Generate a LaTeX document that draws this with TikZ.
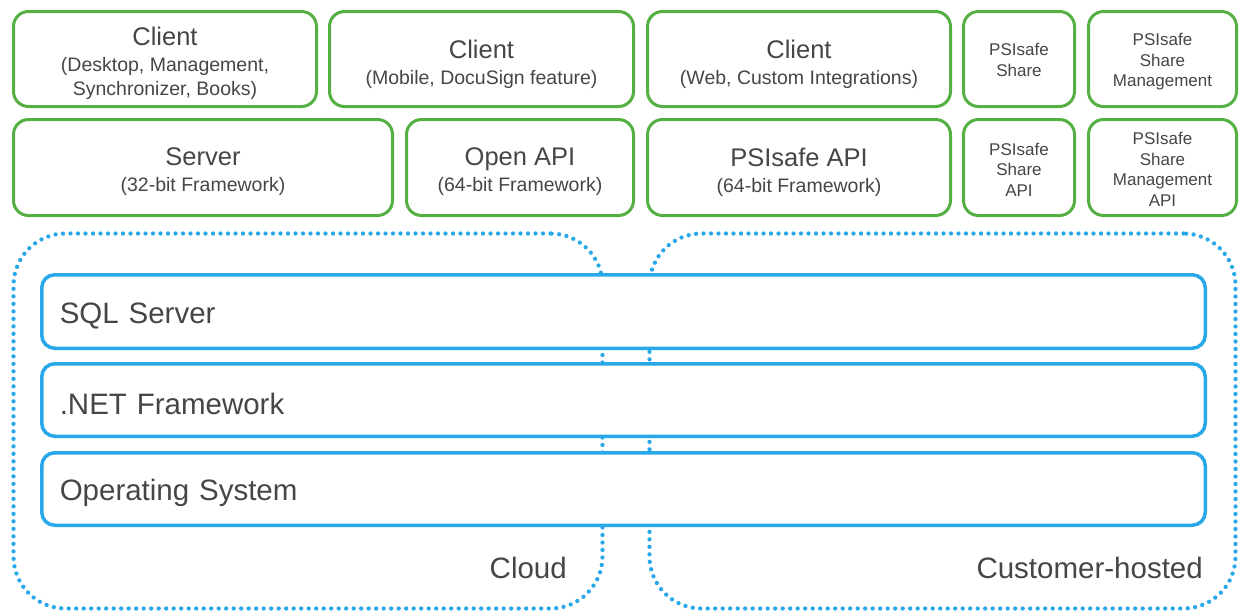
\documentclass[tikz,border=0pt]{standalone}
\usepackage{fontspec}
\setmainfont{Liberation Sans}
\definecolor{gborder}{RGB}{84,176,66}
\definecolor{bborder}{RGB}{40,168,232}
\definecolor{txt}{RGB}{70,70,70}
\newcommand{\fbig}{\fontsize{29.5}{34}\selectfont}
\newcommand{\fmid}{\fontsize{25.5}{28}\selectfont}
\newcommand{\fsub}{\fontsize{19.5}{24}\selectfont}
\newcommand{\fsm}{\fontsize{17}{20.5}\selectfont}
\newcommand{\dn}[1]{\raisebox{-4pt}[\height][\depth]{#1}}
\begin{document}
\begin{tikzpicture}[x=1pt,y=-1pt,
  gbox/.style={draw=gborder, line width=3pt, rounded corners=15pt, inner sep=0pt, fill=white},
  tx/.style={align=center, text=txt, inner sep=0pt, font=\fsub},
  stx/.style={tx, font=\fsm},
  bbar/.style={draw=bborder, line width=3.5pt, rounded corners=13pt, fill=white, text=txt, inner xsep=18pt, text width=1127.5pt, align=left, font=\fbig, minimum width=1163.5pt},
  region/.style={draw=bborder, line width=4.3pt, dash pattern=on 0pt off 7.5pt, line cap=round, rounded corners=52pt, minimum height=375pt},
  lbl/.style={text=txt, font=\fbig, anchor=east, inner sep=0pt}
]
\useasboundingbox (0,0) rectangle (1240,613);
% regions
\node[region, minimum width=589pt] (cloud) at (308,421) {};
\node[region, minimum width=586pt] (cust) at (942.5,421) {};
% top row boxes
\node[gbox, minimum width=303pt, minimum height=95pt] (c1) at (165,59) {};
\node[gbox, minimum width=304pt, minimum height=95pt] (c2) at (481.5,59) {};
\node[gbox, minimum width=303pt, minimum height=95pt] (c3) at (799,59) {};
\node[gbox, minimum width=111pt, minimum height=95pt] (c4) at (1019,59) {};
\node[gbox, minimum width=148pt, minimum height=95pt] (c5) at (1162.5,59) {};
% second row boxes
\node[gbox, minimum width=379pt, minimum height=96pt] (srv) at (203,167.5) {};
\node[gbox, minimum width=227pt, minimum height=96pt] (oapi) at (520,167.5) {};
\node[gbox, minimum width=303pt, minimum height=96pt] (papi) at (799,167.5) {};
\node[gbox, minimum width=111pt, minimum height=96pt] (sapi) at (1019,167.5) {};
\node[gbox, minimum width=148pt, minimum height=96pt] (smapi) at (1162.5,167.5) {};
% texts
\node[tx] (c1t) at ([yshift=-4pt]c1.center) {{\fmid Client}\\[2pt](Desktop, Management,\\Synchronizer, Books)};
\node[tx] (c2t) at ([yshift=-5pt]c2.center) {{\fmid Client}\\[2pt](Mobile, DocuSign feature)};
\node[tx] (c3t) at ([yshift=-5pt]c3.center) {{\fmid Client}\\[2pt](Web, Custom Integrations)};
\node[stx] (c4t) at ([yshift=-1pt]c4.center) {PSIsafe\\Share};
\node[stx] (c5t) at ([yshift=-3pt]c5.center) {PSIsafe\\Share\\Management};
\node[tx] (srvt) at ([yshift=-4.5pt]srv.center) {{\fmid Server}\\[2pt](32-bit Framework)};
\node[tx] (oapit) at ([yshift=-4.5pt]oapi.center) {{\fmid Open API}\\[2pt](64-bit Framework)};
\node[tx] (papit) at ([yshift=-4.5pt]papi.center) {{\fmid PSIsafe API}\\[2pt](64-bit Framework)};
\node[stx] (sapit) at ([yshift=-2pt]sapi.center) {PSIsafe\\Share\\API};
\node[stx] (smapit) at ([yshift=-2pt]smapi.center) {PSIsafe\\Share\\Management\\API};
% bars
\node[bbar, minimum height=73.5pt] (sql) at (623.5,311.5) {\dn{SQL Server}};
\node[bbar, minimum height=72.5pt] (net) at (623.5,400) {\dn{.NET Framework}};
\node[bbar, minimum height=72.5pt] (os) at (623.5,489) {\dn{Operating System}};
% labels
\node[lbl] (cl) at (567,568) {Cloud};
\node[lbl] (ch) at (1203,568) {Customer-hosted};
\end{tikzpicture}
\end{document}
